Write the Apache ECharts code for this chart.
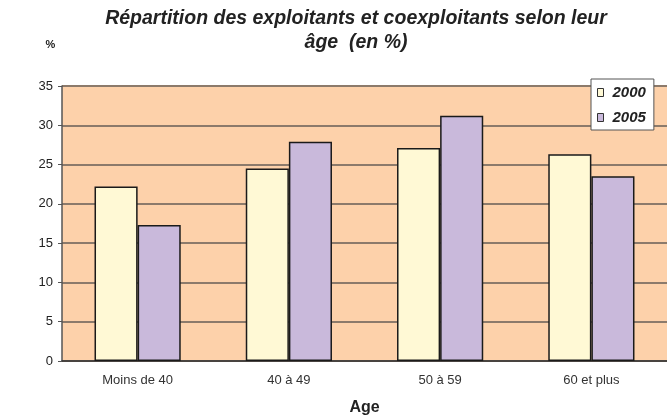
<!DOCTYPE html>
<html>
<head>
<meta charset="utf-8">
<script src="https://cdn.jsdelivr.net/npm/echarts@6/dist/echarts.min.js"></script>
<style>
html, body { margin: 0; padding: 0; background: #fff; }
#chart { width: 667px; height: 417px; }
</style>
</head>
<body>
<div id="chart"></div>
<script>
// tranches d'age
var categories = ['Moins de 40', '40 à 49', '50 à 59', '60 et plus'];
var values2000 = [22.2, 24.5, 27.1, 26.3];
var values2005 = [17.3, 27.9, 31.2, 23.5];
var yTicks = [0, 5, 10, 15, 20, 25, 30, 35];

var myChart = echarts.init(document.getElementById('chart'));
var option = {
	animation : false,
	textStyle : {
		fontFamily : 'Liberation Sans, Arial, sans-serif'
	},
	title : {
		text : 'Répartition des exploitants et coexploitants selon leur\nâge  (en %)',
		left : 351,
		textAlign : 'center',
		top : 2,
		textStyle : {
			fontSize : 19.5,
			fontWeight : 'bold',
			fontStyle : 'italic',
			color : '#222',
			lineHeight : 24
		}
	},
	legend : {
		orient : 'vertical',
		left : 591,
		top : 79,
		data : ['2000', '2005'],
		icon : 'rect',
		itemWidth : 6,
		itemHeight : 8,
		itemGap : 10,
		padding : [6, 8, 5, 6],
		backgroundColor : '#fff',
		borderColor : '#555',
		borderWidth : 1,
		itemStyle : {
			borderWidth : 1,
			borderColor : '#333'
		},
		textStyle : {
			fontSize : 15,
			fontWeight : 'bold',
			fontStyle : 'italic',
			color : '#222',
			padding : [0, 0, 0, 4]
		}
	},
	grid : {
		left : 62,
		right : 0,
		top : 86,
		bottom : 56,
		outerBoundsMode : 'none',
		show : true,
		backgroundColor : '#FDD1AA',
		borderWidth : 0
	},
	xAxis : {
		type : 'category',
		data : categories,
		name : 'Age',
		nameLocation : 'middle',
		nameGap : 39,
		nameTextStyle : {
			fontSize : 16,
			fontWeight : 'bold',
			color : '#222'
		},
		axisLine : {
			lineStyle : {
				color : '#333',
				width : 1.5
			}
		},
		axisTick : {
			length : 5,
			lineStyle : {
				color : '#555'
			}
		},
		axisLabel : {
			fontSize : 13,
			color : '#333',
			margin : 13
		}
	},
	yAxis : {
		type : 'value',
		min : yTicks[0],
		max : yTicks[yTicks.length - 1],
		interval : 5,
		name : '%',
		nameLocation : 'end',
		nameGap : 36,
		nameTextStyle : {
			fontSize : 11,
			fontWeight : 'bold',
			color : '#222',
			padding : [0, 23, 0, 0]
		},
		axisLine : {
			show : true,
			lineStyle : {
				color : '#555',
				width : 1.5
			}
		},
		axisTick : {
			show : true,
			length : 4,
			lineStyle : {
				color : '#555'
			}
		},
		axisLabel : {
			fontSize : 13,
			color : '#222',
			margin : 9
		},
		splitLine : {
			lineStyle : {
				color : '#8C7A6B',
				width : 2
			}
		}
	},
	series : [ {
		name : '2000',
		type : 'bar',
		data : values2000,
		barGap : '0%',
		barCategoryGap : '43%',
		itemStyle : {
			color : '#FFF9D5',
			borderColor : '#1a1a1a',
			borderWidth : 1.5
		}
	}, {
		name : '2005',
		type : 'bar',
		data : values2005,
		itemStyle : {
			color : '#C9B9DB',
			borderColor : '#1a1a1a',
			borderWidth : 1.5
		}
	} ]
};
myChart.setOption(option);
</script>
</body>
</html>
